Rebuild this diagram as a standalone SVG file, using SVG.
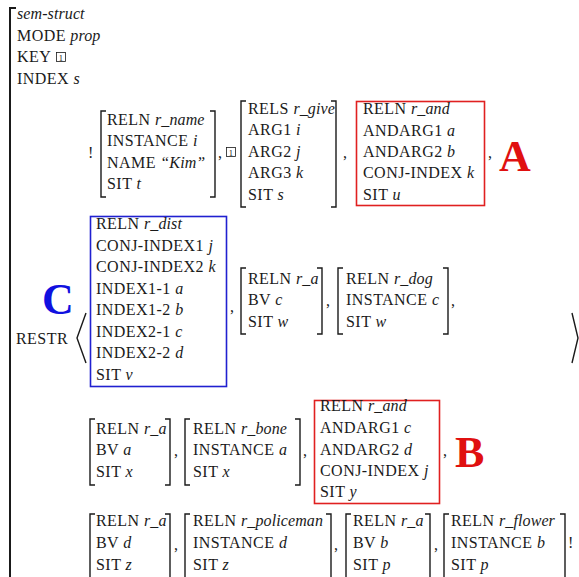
<svg xmlns="http://www.w3.org/2000/svg" width="579" height="577" viewBox="0 0 579 577">
<style>
text{font-family:"Liberation Serif","Times New Roman",serif;font-size:16px;fill:#1a1a1a;letter-spacing:0.45px}
.i{font-style:italic;letter-spacing:0.1px}
.br{fill:none;stroke:#1a1a1a;stroke-width:1.4}
.big{font-weight:bold;font-size:44px;letter-spacing:0}
.red{fill:#e01010}
.blue{fill:#1010e0}
.bx{fill:none;stroke:#1a1a1a;stroke-width:0.8}
.tag{font-size:8.5px;letter-spacing:0}
</style>
<rect width="579" height="577" fill="#fff"/>
<g id="outer">
<path class="br" style="stroke-width:2" d="M16,8 H10 V577"/>
<text x="17" y="19" class="i">sem-struct</text>
<text x="17" y="41">MODE <tspan class="i">prop</tspan></text>
<text x="17" y="62">KEY</text>
<rect class="bx" x="56.5" y="52.5" width="9" height="9"/><text class="tag" x="58.8" y="60.5">1</text>
<text x="17" y="84">INDEX <tspan class="i">s</tspan></text>
<text x="16" y="344">RESTR</text>
<polyline class="br" points="86,313 77,338 86,363"/>
<polyline class="br" points="572,313 578,338 572,363"/>
</g>
<g id="row1">
<text x="88" y="158">!</text>
<g id="n-name">
<path class="br" d="M106,111 H101 V197 H106 M210,111 H215 V197 H210"/>
<text x="107" y="125">RELN <tspan class="i">r_name</tspan></text>
<text x="107" y="146">INSTANCE <tspan class="i">i</tspan></text>
<text x="107" y="168">NAME <tspan class="i">“Kim”</tspan></text>
<text x="107" y="189">SIT <tspan class="i">t</tspan></text>
</g>
<text x="218" y="158">,</text>
<rect class="bx" x="226.5" y="147.5" width="9" height="9"/><text class="tag" x="228.8" y="155.5">1</text>
<g id="n-give">
<path class="br" d="M246,101 H241 V207 H246 M331,101 H336 V207 H331"/>
<text x="248" y="114">RELS <tspan class="i">r_give</tspan></text>
<text x="248" y="135">ARG1 <tspan class="i">i</tspan></text>
<text x="248" y="157">ARG2 <tspan class="i">j</tspan></text>
<text x="248" y="178">ARG3 <tspan class="i">k</tspan></text>
<text x="248" y="200">SIT <tspan class="i">s</tspan></text>
</g>
<text x="343" y="158">,</text>
<g id="n-andA">
<rect x="356.5" y="101.5" width="128" height="104" fill="none" stroke="#e02020" stroke-width="1.6"/>
<text x="363" y="114">RELN <tspan class="i">r_and</tspan></text>
<text x="363" y="136">ANDARG1 <tspan class="i">a</tspan></text>
<text x="363" y="157">ANDARG2 <tspan class="i">b</tspan></text>
<text x="363" y="178">CONJ-INDEX <tspan class="i">k</tspan></text>
<text x="363" y="200">SIT <tspan class="i">u</tspan></text>
</g>
<text x="488" y="158">,</text>
<text x="499" y="171" class="big red">A</text>
</g>
<g id="row2">
<text x="42" y="314" class="big blue">C</text>
<g id="n-dist">
<rect x="90.5" y="216.5" width="136" height="170" fill="none" stroke="#2020d0" stroke-width="1.6"/>
<text x="96" y="229">RELN <tspan class="i">r_dist</tspan></text>
<text x="96" y="251">CONJ-INDEX1 <tspan class="i">j</tspan></text>
<text x="96" y="272">CONJ-INDEX2 <tspan class="i">k</tspan></text>
<text x="96" y="294">INDEX1-1 <tspan class="i">a</tspan></text>
<text x="96" y="315">INDEX1-2 <tspan class="i">b</tspan></text>
<text x="96" y="337">INDEX2-1 <tspan class="i">c</tspan></text>
<text x="96" y="358">INDEX2-2 <tspan class="i">d</tspan></text>
<text x="96" y="380">SIT <tspan class="i">v</tspan></text>
</g>
<text x="230" y="312">,</text>
<g id="n-a1">
<path class="br" d="M246,268 H241 V334 H246 M317,268 H322 V334 H317"/>
<text x="248" y="284">RELN <tspan class="i">r_a</tspan></text>
<text x="248" y="305">BV <tspan class="i">c</tspan></text>
<text x="248" y="327">SIT <tspan class="i">w</tspan></text>
</g>
<text x="326" y="306">,</text>
<g id="n-dog">
<path class="br" d="M343,268 H338 V334 H343 M443,268 H448 V334 H443"/>
<text x="346" y="284">RELN <tspan class="i">r_dog</tspan></text>
<text x="346" y="305">INSTANCE <tspan class="i">c</tspan></text>
<text x="346" y="327">SIT <tspan class="i">w</tspan></text>
</g>
<text x="451" y="306">,</text>
</g>
<g id="row3">
<g id="n-a2">
<path class="br" d="M95,419 H90 V485 H95 M165,419 H170 V485 H165"/>
<text x="96" y="434">RELN <tspan class="i">r_a</tspan></text>
<text x="96" y="455">BV <tspan class="i">a</tspan></text>
<text x="96" y="477">SIT <tspan class="i">x</tspan></text>
</g>
<text x="174" y="456">,</text>
<g id="n-bone">
<path class="br" d="M190,419 H185 V485 H190 M295,419 H300 V485 H295"/>
<text x="193" y="434">RELN <tspan class="i">r_bone</tspan></text>
<text x="193" y="455">INSTANCE <tspan class="i">a</tspan></text>
<text x="193" y="477">SIT <tspan class="i">x</tspan></text>
</g>
<text x="303" y="456">,</text>
<g id="n-andB">
<rect x="314.5" y="400.5" width="125" height="103" fill="none" stroke="#e02020" stroke-width="1.6"/>
<text x="320" y="411">RELN <tspan class="i">r_and</tspan></text>
<text x="320" y="433">ANDARG1 <tspan class="i">c</tspan></text>
<text x="320" y="455">ANDARG2 <tspan class="i">d</tspan></text>
<text x="320" y="476">CONJ-INDEX <tspan class="i">j</tspan></text>
<text x="320" y="497">SIT <tspan class="i">y</tspan></text>
</g>
<text x="443" y="456">,</text>
<text x="455" y="467" class="big red">B</text>
</g>
<g id="row4">
<g id="n-a3">
<path class="br" d="M95,514 H90 V580 M165,514 H170 V580"/>
<text x="96" y="526">RELN <tspan class="i">r_a</tspan></text>
<text x="96" y="548">BV <tspan class="i">d</tspan></text>
<text x="96" y="570">SIT <tspan class="i">z</tspan></text>
</g>
<text x="174" y="550">,</text>
<g id="n-policeman">
<path class="br" d="M190,514 H185 V580 M326,514 H331 V580"/>
<text x="193" y="526">RELN <tspan class="i">r_policeman</tspan></text>
<text x="193" y="548">INSTANCE <tspan class="i">d</tspan></text>
<text x="193" y="570">SIT <tspan class="i">z</tspan></text>
</g>
<text x="334" y="550">,</text>
<g id="n-a4">
<path class="br" d="M351,514 H346 V580 M425,514 H430 V580"/>
<text x="353" y="526">RELN <tspan class="i">r_a</tspan></text>
<text x="353" y="548">BV <tspan class="i">b</tspan></text>
<text x="353" y="570">SIT <tspan class="i">p</tspan></text>
</g>
<text x="434" y="550">,</text>
<g id="n-flower">
<path class="br" d="M449,514 H444 V580 M560,514 H565 V580"/>
<text x="451" y="526">RELN <tspan class="i">r_flower</tspan></text>
<text x="451" y="548">INSTANCE <tspan class="i">b</tspan></text>
<text x="451" y="570">SIT <tspan class="i">p</tspan></text>
</g>
<text x="568" y="548">!</text>
</g>
</svg>
